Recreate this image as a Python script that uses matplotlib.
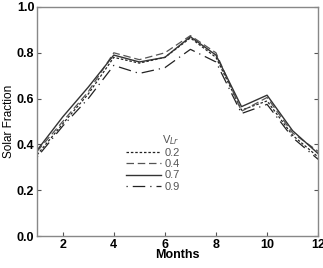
import matplotlib.pyplot as plt
import numpy as np

months = [1, 2, 3, 4, 5, 6, 7, 8, 9, 10, 11, 12]
# solar fraction for each V_Lr
sf_02 = [0.355, 0.49, 0.62, 0.78, 0.755, 0.78, 0.865, 0.78, 0.55, 0.59, 0.44, 0.345]
sf_04 = [0.37, 0.50, 0.63, 0.80, 0.77, 0.80, 0.875, 0.80, 0.545, 0.605, 0.45, 0.37]
sf_07 = [0.375, 0.52, 0.65, 0.79, 0.76, 0.78, 0.87, 0.79, 0.565, 0.615, 0.46, 0.36]
sf_09 = [0.345, 0.48, 0.60, 0.745, 0.71, 0.735, 0.815, 0.76, 0.535, 0.575, 0.43, 0.335]
labels = ['0.2', '0.4', '0.7', '0.9']

plt.rcParams['font.family'] = ['Liberation Sans', 'DejaVu Sans']

fig = plt.figure(figsize=(3.23, 2.68), dpi=100)
ax = fig.add_axes([0.115, 0.119, 0.87, 0.855])

ax.plot(months, sf_02, color='#222222', lw=0.9, ls=(0, (2, 1.5)), label=labels[0])
ax.plot(months, sf_04, color='#555555', lw=0.9, ls=(0, (6, 3)), label=labels[1])
ax.plot(months, sf_07, color='#333333', lw=1.0, ls='-', label=labels[2])
ax.plot(months, sf_09, color='#222222', lw=0.9, ls=(0, (1, 4, 10, 4)), label=labels[3])

ax.set_xlim(1, 12)
ax.set_ylim(0, 1.0)
ax.set_xticks([2, 4, 6, 8, 10, 12])
ax.set_yticks([0.0, 0.2, 0.4, 0.6, 0.8, 1.0])
ax.set_yticklabels(['0.0', '0.2', '0.4', '0.6', '0.8', '1.0'])
ax.tick_params(direction='in', length=3, width=0.8, color='#555555',
               labelsize=9, top=False, right=True, pad=2)
for lab in ax.get_xticklabels() + ax.get_yticklabels():
    lab.set_fontweight('bold')
for sp in ax.spines.values():
    sp.set_color('#888888')
    sp.set_linewidth(1.0)

ax.set_xlabel('Months', fontsize=9, fontweight='bold', labelpad=-1)
ax.set_ylabel('Solar Fraction', fontsize=8.5, labelpad=1)

leg = ax.legend(loc='lower left', bbox_to_anchor=(0.295, 0.17), frameon=False,
                fontsize=8, handlelength=3.2, handletextpad=0.3,
                labelspacing=0.1, borderpad=0,
                title=r'V$_{Lr}$', title_fontsize=8)
for t in leg.get_texts():
    t.set_color('#555555')
leg.get_title().set_color('#555555')
leg._legend_box.align = 'right'

fig.savefig('out.png', dpi=100)
